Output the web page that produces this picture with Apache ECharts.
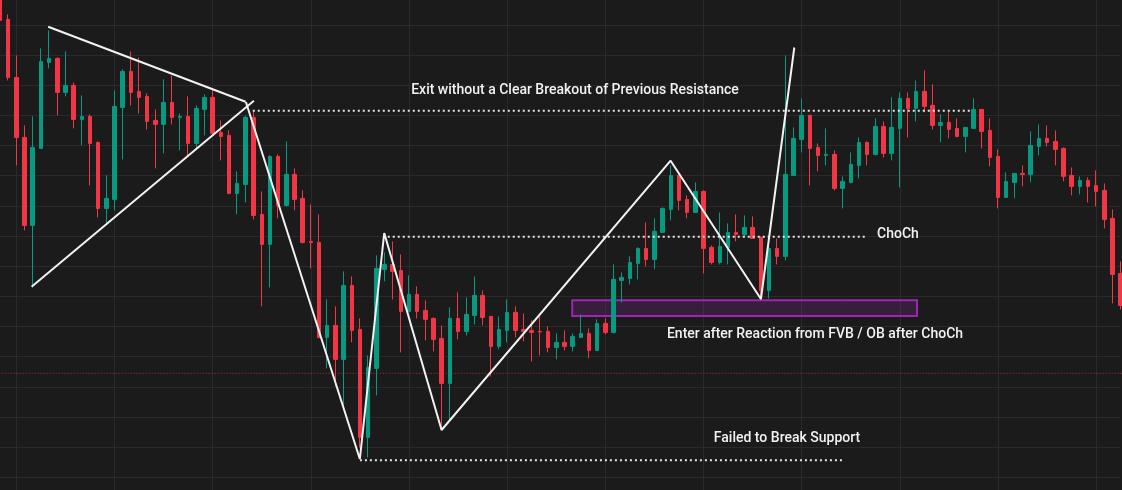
<!DOCTYPE html>
<html>
<head>
<meta charset="utf-8">
<script src="https://cdn.jsdelivr.net/npm/echarts@6/dist/echarts.min.js"></script>
<style>
  html, body { margin: 0; padding: 0; background: #1b1b1b; }
  #chart { width: 1122px; height: 490px; }
</style>
</head>
<body>
<div id="chart"></div>
<script>
// candles (one per bar, left to right)
var opens = [512,488,430,370,282,359,445,449,415,422,388,391,365,299,308,400,436,416,411,387,
  383,405,390,391,364,398,410,375,372,314,323,390,293,263,351,302,333,309,266,265,
  170,182,148,222,178,70,139,238,243,237,196,213,197,189,169,124,189,176,192,212,
  191,161,177,195,178,177,176,176,160,165,161,170,174,157,184,175,227,229,244,259,
  248,275,298,332,308,295,316,260,245,260,275,273,280,270,217,259,251,332,368,392,
  360,352,353,319,325,342,365,353,381,354,379,409,399,416,402,382,385,379,371,379,
  398,377,351,310,325,334,333,361,369,366,359,332,321,327,322,317,289,234];
var closes = [487,430,370,282,360,446,449,415,422,388,391,364,299,309,401,436,415,410,386,383,
  405,390,391,364,399,410,374,371,314,324,390,292,263,351,302,333,308,265,265,170,
  182,148,222,177,70,140,239,243,236,196,213,196,188,168,124,189,176,193,212,190,
  161,178,195,177,176,175,175.5,160,165,161,171,174,157,184,175,228,230,245,259,248,
  276,299,332,307,295,316,259,245,261,275,273,280,269,217,259,251,333,369,392,359,
  352,353,319,326,343,365,353,381,354,380,409,399,416,401,382,385,378,371,380,398,
  376,350,310,326,334,333,362,369,365,358,331,321,327,321,316,288,233,202];
var lows = [478,427,342,277,220,359,439,392,411,379,362,322,290,282,297,348,402,394,378,339,
  354,383,357,351,358,372,373,347,313,293,305,288,201,220,289,301,297,264,239,169,
  139,121,99,165,60,50,112,226,208,155,195,189,167,156,78,87,168,172,183,182,
  131,158,165,170,166,146,152,155,148,157,156,170,149,157,173,174,205,223,228,241,
  238,275,287,297,289,295,234,243,243,243,266,270,269,207,209,243,247,332,355,322,
  336,342,317,299,324,329,342,352,350,347,320,370,386,395,378,365,369,370,355,379,
  359,341,299,310,309,321,325,352,361,342,326,312,313,305,301,279,204,198];
var highs = [515,493,452,382,391,459,477,450,456,425,412,393,366,332,417,438,456,450,414,398,
  428,432,394,411,402,413,418,387,377,336,392,396,316,352,353,366,339,317,303,293,
  208,201,236,231,189,152,252,255,266,253,232,221,207,190,182,200,215,210,231,217,
  191,191,208,201,194,187,191,181,174,177,174,193,179,188,189,243,235,251,260,285,
  289,300,342,335,312,325,317,262,295,284,293,292,291,271,267,269,452,380,409,393,
  364,379,357,331,355,370,366,389,386,410,415,415,427,437,423,393,396,389,380,409,
  398,389,358,335,334,342,376,383,382,377,360,340,331,330,337,324,298,246];

// drawings: [bar index, price]
var triangleTop = [[5.89, 480.7], [30.02, 405.7]];
var triangleBottom = [[3.86, 220.7], [31.04, 406.7]];
var swings = [[30.06, 405.4], [43.99, 48.4], [46.97, 274.4], [53.98, 77.4],
  [81.98, 346.7], [93.02, 208.4], [97.1, 459.9]];
var resistanceLine = [[30.9, 396.7], [118.8, 396.7]];
var chochLine = [[47.4, 270.7], [106, 270.7]];
var supportLine = [[44, 47.1], [103, 47.1]];
var priceLine = [[-2, 134.1], [139, 134.1]];
var zoneBox = [[69.95, 207.1], [112.1, 191.4]];

var bars = opens.map(function (o, i) { return 'b' + i; });
var candles = opens.map(function (o, i) {
  return [o, closes[i], lows[i], highs[i]];
});

var chart = echarts.init(document.getElementById('chart'));

function seg(pts, color, width, type, z) {
  return {
    type: 'line', xAxisIndex: 1, data: pts, symbol: 'none', silent: true,
    lineStyle: { color: color, width: width, type: type }, z: z, animation: false
  };
}

var series = [
  seg(priceLine, 'rgba(242,54,69,0.75)', 1, [1, 2], 1),
  {
    type: 'candlestick',
    data: candles,
    barWidth: 4,
    itemStyle: {
      color: '#089981', color0: '#f23645',
      borderColor: '#089981', borderColor0: '#f23645', borderWidth: 1
    },
    z: 2
  },
  seg(triangleTop, '#f2f2f2', 2, 'solid', 5),
  seg(triangleBottom, '#f2f2f2', 2, 'solid', 5),
  seg(swings, '#f2f2f2', 2, 'solid', 5),
  seg(resistanceLine, '#e6e6e6', 2, [2, 3], 4),
  seg(chochLine, '#e6e6e6', 2, [2, 3], 4),
  seg(supportLine, '#e6e6e6', 2, [2, 3], 4)
];
series[2].markArea = {
  silent: true,
  itemStyle: { color: 'rgba(156,39,176,0.22)', borderColor: '#9c27b0', borderWidth: 2 },
  data: [[{ coord: zoneBox[0] }, { coord: zoneBox[1] }]]
};

var txt = { fill: '#f2f2f2', font: '500 14px Roboto', textAlign: 'center', textVerticalAlign: 'middle',
  align: 'center', verticalAlign: 'middle' };
function label(s, x, y) {
  return { type: 'text', x: x, y: y, z: 10, style: Object.assign({ text: s }, txt) };
}

option = {
  backgroundColor: '#1b1b1b',
  animation: false,
  grid: { left: 0, width: 1120.7, top: -5.15, height: 512.55, outerBoundsMode: 'none', containLabel: false },
  xAxis: [
    {
      type: 'category', data: bars, boundaryGap: false,
      axisLine: { show: false }, axisTick: { show: false }, axisLabel: { show: false },
      splitLine: {
        show: true,
        interval: function (i) { return i % 12 === 2; },
        lineStyle: { color: '#2a2a2a', width: 1 }
      }
    },
    { type: 'value', min: 0, max: bars.length - 1, show: false }
  ],
  yAxis: {
    type: 'value', min: 0, max: 512.55, interval: 30.15,
    axisLine: { show: false }, axisTick: { show: false }, axisLabel: { show: false },
    splitLine: { show: true, lineStyle: { color: '#2a2a2a', width: 1 } }
  },
  series: series,
  graphic: [
    label('Exit without a Clear Breakout of Previous Resistance', 575, 90),
    label('ChoCh', 898, 234),
    label('Enter after Reaction from FVB / OB after ChoCh', 815, 334),
    label('Failed to Break Support', 787, 438)
  ]
};

chart.setOption(option);
</script>
</body>
</html>
